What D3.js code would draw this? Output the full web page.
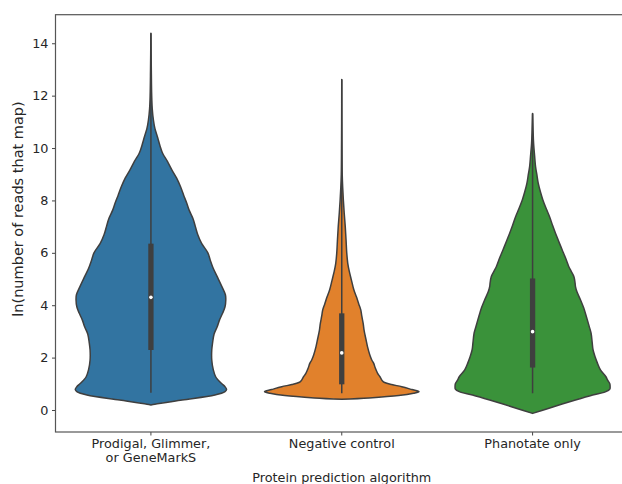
<!DOCTYPE html>
<html>
<head>
<meta charset="utf-8">
<script src="https://cdn.jsdelivr.net/npm/d3@7"></script>
<style>
  body { margin: 0; background: #fff; }
  svg text { font-family: "DejaVu Sans", sans-serif; fill: #262626; }
</style>
</head>
<body>
<div id="chart"></div>
<script>
// categories and colours
const categories = ["Prodigal, Glimmer,\nor GeneMarkS", "Negative control", "Phanotate only"];
const colors = ["#3274a1", "#e1812c", "#3a923a"];
const yTicks = [0, 2, 4, 6, 8, 10, 12, 14];

// density profiles: [ln(reads), relative width %]
const prodigalDensity = [
  [0.19, 0], [0.22, 5], [0.38, 40], [0.57, 82], [0.70, 95], [0.78, 97], [0.89, 95], [1.0, 91],
  [1.15, 86], [1.27, 83], [1.53, 80], [1.91, 78], [2.29, 78], [2.55, 79], [2.9, 81], [3.18, 85],
  [3.44, 88], [3.7, 92], [3.94, 95], [4.2, 96], [4.4, 95.5], [4.71, 91], [5.09, 85], [5.4, 80],
  [5.73, 76], [6.0, 73], [6.36, 65], [6.7, 60], [7.0, 57], [7.3, 54], [7.63, 49], [7.89, 46],
  [8.2, 42], [8.52, 38], [8.85, 33], [9.16, 27], [9.5, 21], [9.8, 15], [10.1, 11.5], [10.43, 8.3],
  [10.75, 5.1], [11.07, 3.2], [11.5, 1.7], [12.0, 1.0], [13.0, 0.5], [14.38, 0]
];
const negativeDensity = [
  [0.41, 0], [0.46, 35], [0.55, 73], [0.64, 92], [0.70, 99], [0.78, 90], [0.89, 77], [0.97, 64],
  [1.05, 55], [1.12, 52], [1.27, 49], [1.40, 46], [1.6, 43], [1.78, 41], [1.91, 38.5], [2.1, 36],
  [2.42, 33], [2.7, 31], [3.05, 28.6], [3.3, 27.5], [3.6, 25.6], [3.82, 24.4], [4.05, 21.8],
  [4.32, 18.8], [4.6, 15.4], [4.96, 12.4], [5.3, 9.6], [5.6, 7.7], [6.0, 6.4], [6.5, 5.5],
  [7.0, 4.5], [7.5, 3.2], [8.0, 2.1], [8.5, 1.2], [9.0, 0.6], [10.0, 0.3], [11.0, 0.13], [12.62, 0]
];
const phanotateDensity = [
  [-0.13, 0], [0.06, 20], [0.38, 55], [0.57, 77], [0.70, 94], [0.80, 99], [0.89, 99.4], [1.0, 99],
  [1.15, 96], [1.27, 94], [1.53, 87], [1.8, 83], [2.04, 80], [2.3, 77.5], [2.55, 76.5], [2.93, 75],
  [3.2, 72.5], [3.56, 69], [3.9, 65.5], [4.2, 61.5], [4.5, 57], [4.71, 55], [4.84, 54.5], [5.09, 53],
  [5.3, 49.4], [5.47, 46.5], [5.8, 42.3], [6.11, 38], [6.4, 34], [6.74, 29.5], [7.05, 25.6],
  [7.38, 21.8], [7.7, 17.3], [8.02, 13.2], [8.3, 10.3], [8.65, 7.3], [9.0, 5.4], [9.29, 3.8],
  [9.7, 2.6], [10.18, 1.3], [10.7, 0.6], [11.32, 0]
];
const densities = [prodigalDensity, negativeDensity, phanotateDensity];

// box stats: [whisker low, q1, median, q3, whisker high]
const boxStats = [
  [0.66, 2.29, 4.30, 6.35, 14.38],
  [0.64, 0.98, 2.18, 3.69, 12.62],
  [0.64, 1.62, 2.99, 5.02, 11.32]
];

const svgWidth = 622, svgHeight = 484;
const margin = { top: 14.7, left: 55.5, right: 628, bottom: 432 };

const svg = d3.select("#chart").append("svg")
  .attr("width", svgWidth)
  .attr("height", svgHeight);

const x = d3.scaleBand().domain(categories).range([margin.left, margin.right]);
const y = d3.scaleLinear().domain([-0.84, 15.09]).range([margin.bottom, margin.top]);
const w = d3.scaleLinear().domain([0, 100]).range([0, 78]);

// violins
const area = d3.area()
  .curve(d3.curveCatmullRom)
  .y(d => y(d[0]));

categories.forEach((c, i) => {
  const cx = x(c) + x.bandwidth() / 2;
  svg.append("path")
    .datum(densities[i])
    .attr("d", area.x0(d => cx - w(d[1])).x1(d => cx + w(d[1])))
    .attr("fill", colors[i])
    .attr("stroke", "#3f3f3f")
    .attr("stroke-width", 1.5)
    .attr("stroke-linejoin", "round");

  const s = boxStats[i];
  svg.append("line")
    .attr("x1", cx).attr("x2", cx)
    .attr("y1", y(s[0])).attr("y2", y(s[4]))
    .attr("stroke", "#3f3f3f")
    .attr("stroke-width", 1.5);
  svg.append("line")
    .attr("x1", cx).attr("x2", cx)
    .attr("y1", y(s[1])).attr("y2", y(s[3]))
    .attr("stroke", "#3f3f3f")
    .attr("stroke-width", 5.3);
  svg.append("circle")
    .attr("cx", cx).attr("cy", y(s[2]))
    .attr("r", 1.8)
    .attr("fill", "#fff");
});

// axes
const yAxis = svg.append("g")
  .attr("transform", `translate(${margin.left},0)`)
  .call(d3.axisLeft(y).tickValues(yTicks).tickSize(3.5).tickPadding(3.5));

const xAxis = svg.append("g")
  .attr("transform", `translate(0,${margin.bottom})`)
  .call(d3.axisBottom(x).tickSize(3.5).tickPadding(3.5));

[yAxis, xAxis].forEach(g => {
  g.select(".domain").remove();
  g.selectAll(".tick line").attr("stroke", "#444").attr("stroke-width", 1);
  g.selectAll("text").attr("font-size", 12.8).attr("fill", "#262626")
    .style("font-family", "DejaVu Sans, sans-serif");
});

// multi-line category labels
xAxis.selectAll(".tick text").each(function(d) {
  const t = d3.select(this);
  const lines = d.split("\n");
  t.text(null);
  lines.forEach((l, k) => {
    t.append("tspan").attr("x", 0).attr("dy", k === 0 ? "0.71em" : "1.1em").text(l);
  });
});

// frame
svg.append("rect")
  .attr("x", margin.left).attr("y", margin.top)
  .attr("width", margin.right - margin.left)
  .attr("height", margin.bottom - margin.top)
  .attr("fill", "none")
  .attr("stroke", "#555")
  .attr("stroke-width", 1.2);

// axis titles
svg.append("text")
  .attr("transform", "translate(23,209) rotate(-90)")
  .attr("text-anchor", "middle")
  .attr("font-size", 14.5)
  .text("ln(number of reads that map)");

svg.append("text")
  .attr("x", x(categories[1]) + x.bandwidth() / 2)
  .attr("y", 482)
  .attr("text-anchor", "middle")
  .attr("font-size", 12.8)
  .text("Protein prediction algorithm");
</script>
</body>
</html>
